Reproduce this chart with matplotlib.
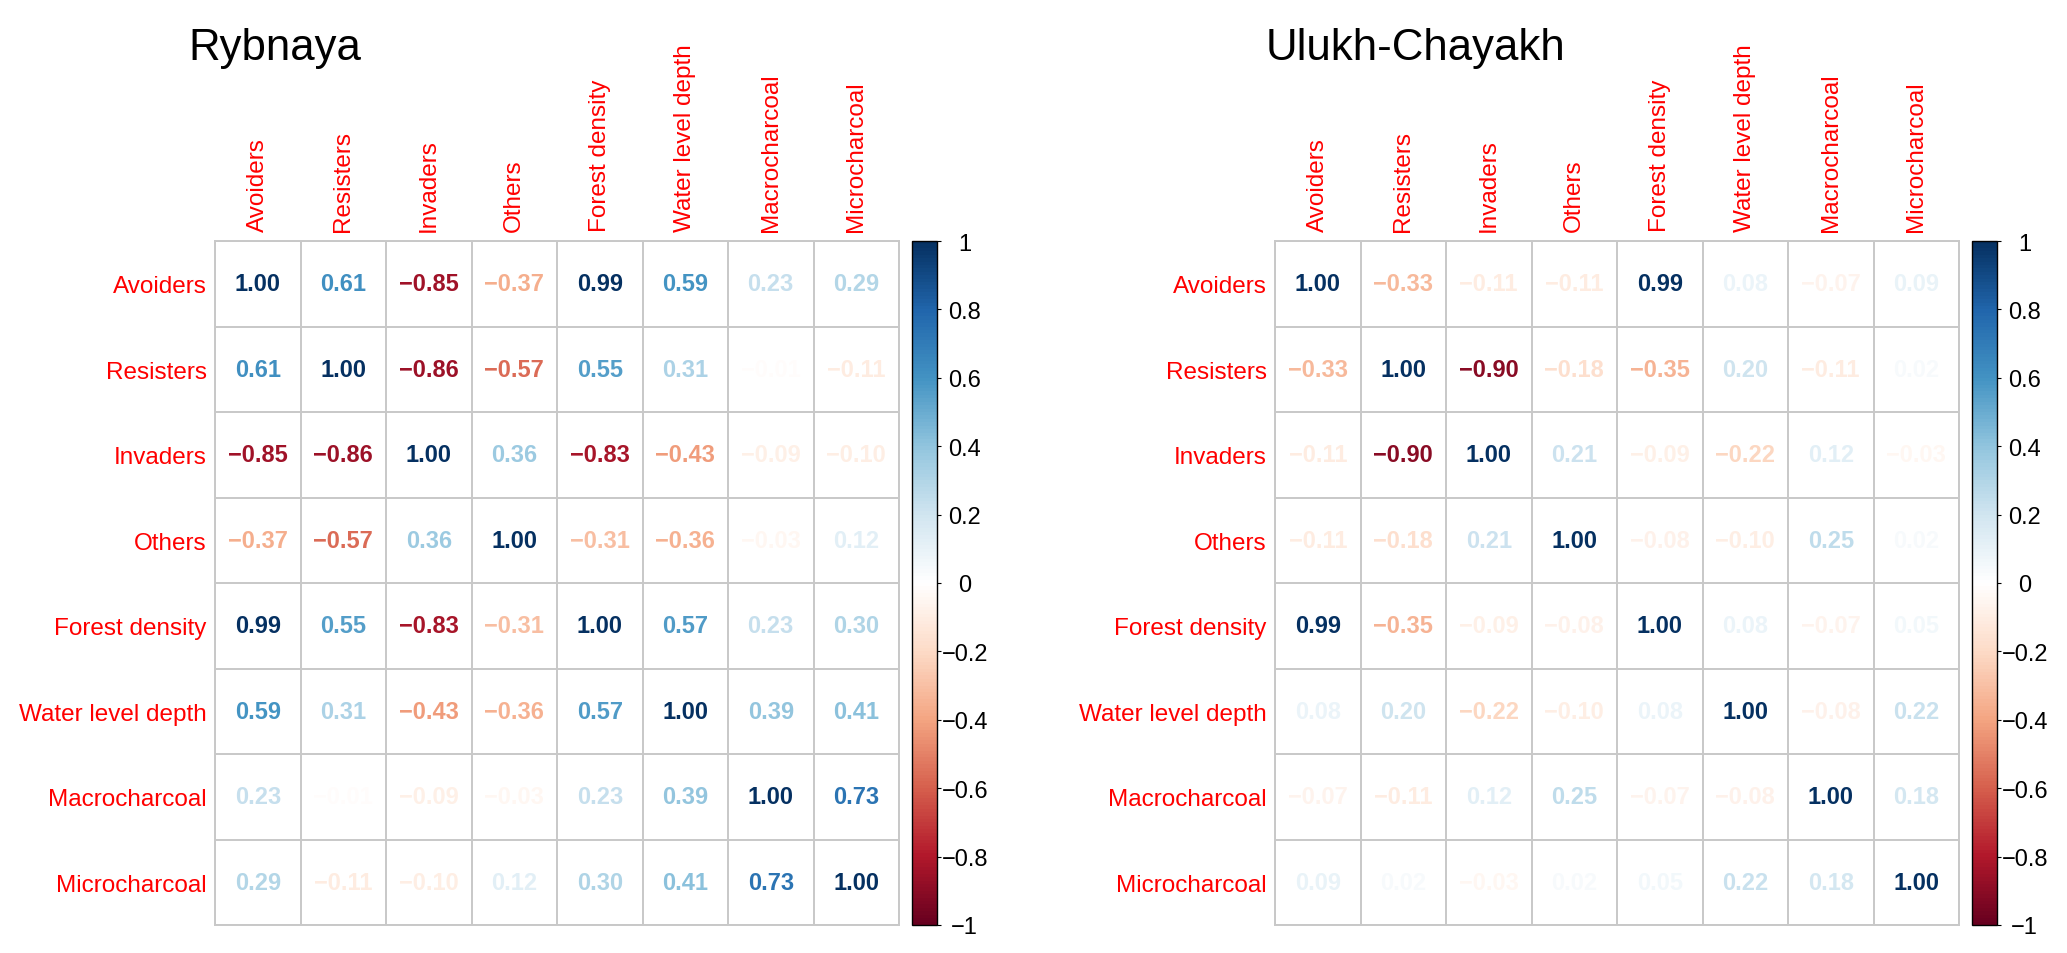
import matplotlib
matplotlib.use("Agg")
import matplotlib.pyplot as plt
import numpy as np
from matplotlib.colors import LinearSegmentedColormap, Normalize
from matplotlib.cm import ScalarMappable

plt.rcParams['font.family'] = ['Liberation Sans', 'DejaVu Sans']

variables = ['Avoiders', 'Resisters', 'Invaders', 'Others', 'Forest density',
             'Water level depth', 'Macrocharcoal', 'Microcharcoal']

rybnaya = [
    [1.00, 0.61, -0.85, -0.37, 0.99, 0.59, 0.23, 0.29],
    [0.61, 1.00, -0.86, -0.57, 0.55, 0.31, -0.01, -0.11],
    [-0.85, -0.86, 1.00, 0.36, -0.83, -0.43, -0.09, -0.10],
    [-0.37, -0.57, 0.36, 1.00, -0.31, -0.36, -0.03, 0.12],
    [0.99, 0.55, -0.83, -0.31, 1.00, 0.57, 0.23, 0.30],
    [0.59, 0.31, -0.43, -0.36, 0.57, 1.00, 0.39, 0.41],
    [0.23, -0.01, -0.09, -0.03, 0.23, 0.39, 1.00, 0.73],
    [0.29, -0.11, -0.10, 0.12, 0.30, 0.41, 0.73, 1.00],
]

ulukh = [
    [1.00, -0.33, -0.11, -0.11, 0.99, 0.08, -0.07, 0.09],
    [-0.33, 1.00, -0.90, -0.18, -0.35, 0.20, -0.11, 0.02],
    [-0.11, -0.90, 1.00, 0.21, -0.09, -0.22, 0.12, -0.03],
    [-0.11, -0.18, 0.21, 1.00, -0.08, -0.10, 0.25, 0.02],
    [0.99, -0.35, -0.09, -0.08, 1.00, 0.08, -0.07, 0.05],
    [0.08, 0.20, -0.22, -0.10, 0.08, 1.00, -0.08, 0.22],
    [-0.07, -0.11, 0.12, 0.25, -0.07, -0.08, 1.00, 0.18],
    [0.09, 0.02, -0.03, 0.02, 0.05, 0.22, 0.18, 1.00],
]

cbar_ticks = [-1, -0.8, -0.6, -0.4, -0.2, 0, 0.2, 0.4, 0.6, 0.8, 1]

# corrplot RdBu palette
rdbu = ["#67001F", "#B2182B", "#D6604D", "#F4A582", "#FDDBC7", "#FFFFFF",
        "#D1E5F0", "#92C5DE", "#4393C3", "#2166AC", "#053061"]
cmap = LinearSegmentedColormap.from_list("corr_rdbu", rdbu, N=200)
norm = Normalize(-1, 1)

W, H = 2067, 954
fig = plt.figure(figsize=(W / 100, H / 100), dpi=100)


def px_axes(x0, y0, w, h):
    # pixel box (top-left origin) -> figure fraction
    return fig.add_axes([x0 / W, 1 - (y0 + h) / H, w / W, h / H])


def fmt_tick(v):
    s = f"{v:g}"
    return s.replace('-', '\u2212')


def draw_corr(mat, title, gx, title_x):
    mat = np.array(mat)
    n = len(variables)
    ax = px_axes(gx, 242, 684, 684)
    ax.set_xlim(-0.5, n - 0.5)
    ax.set_ylim(n - 0.5, -0.5)
    ax.set_xticks(np.arange(n + 1) - 0.5, minor=True)
    ax.set_yticks(np.arange(n + 1) - 0.5, minor=True)
    ax.grid(which='minor', color='#C8C8C8', lw=1.4)
    for sp in ax.spines.values():
        sp.set_color('#C8C8C8')
        sp.set_linewidth(1.4)
    ax.tick_params(which='both', length=0)
    ax.xaxis.tick_top()
    ax.set_xticks(range(n))
    ax.set_xticklabels(variables, rotation=90, color='red', fontsize=17.5)
    ax.set_yticks(range(n))
    ax.set_yticklabels(variables, color='red', fontsize=17.5)
    ax.tick_params(axis='x', pad=7)
    ax.tick_params(axis='y', pad=6)

    for i in range(n):
        for j in range(n):
            v = mat[i, j]
            # nudge near-zero values off pure white so they stay faintly visible
            c = cmap(norm(v * 1.6 if abs(v) < 0.05 else v))
            ax.text(j, i, f"{v:.2f}".replace('-', '\u2212'), ha='center', va='center',
                    fontsize=17, fontweight='bold', color=c)

    cax = px_axes(gx + 697, 242, 25, 684)
    cb = fig.colorbar(ScalarMappable(norm=norm, cmap=cmap), cax=cax)
    cb.outline.set_edgecolor('black')
    cb.outline.set_linewidth(1.0)
    cb.set_ticks(cbar_ticks)
    cb.set_ticklabels([fmt_tick(t) for t in cbar_ticks])
    cax.tick_params(length=3, width=0.8, pad=17, labelsize=17)
    for lab in cax.get_yticklabels():
        lab.set_horizontalalignment('center')

    fig.text(title_x / W, 1 - 60 / H, title, fontsize=31.5, ha='left', va='baseline')


draw_corr(rybnaya, 'Rybnaya', 215, 188)
draw_corr(ulukh, 'Ulukh-Chayakh', 1275, 1266)

fig.savefig('out.png', dpi=100)
